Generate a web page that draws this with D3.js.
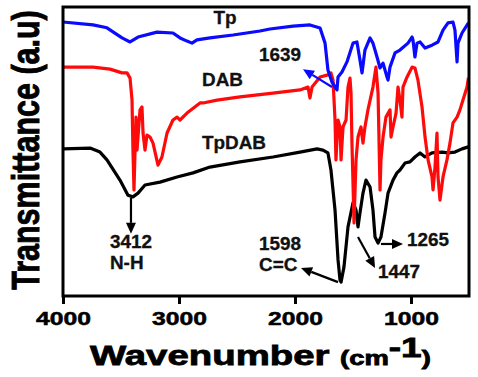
<!DOCTYPE html>
<html>
<head>
<meta charset="utf-8">
<script src="https://cdn.jsdelivr.net/npm/d3@7"></script>
<style>
  body { margin: 0; background: #fff; }
  svg { display: block; font-family: "Liberation Sans", Arial, sans-serif; font-weight: bold; }
</style>
</head>
<body>
<div id="chart"></div>
<script>
// FTIR spectra, wavenumber (cm-1) vs transmittance (a.u)
const tpWave = [4000, 3741, 3621, 3491, 3422, 3353, 3190, 3052, 2991, 2931, 2888, 2845, 2733, 2534, 2302, 2216, 2017, 1871, 1784, 1741, 1716, 1681, 1638, 1629, 1595, 1552, 1500, 1466, 1440, 1422, 1397, 1353, 1328, 1293, 1267, 1241, 1207, 1198, 1181, 1138, 1095, 1026, 991, 983, 966, 948, 922, 879, 819, 767, 724, 681, 638, 621, 603, 595, 560, 505];
const tpT    = [94.8, 93.8, 92.8, 89.3, 87.9, 89.6, 91.3, 91.0, 89.3, 88.2, 87.5, 88.6, 89.3, 90.3, 91.7, 92.4, 93.4, 93.8, 92.7, 87.5, 78.2, 74.0, 71.3, 75.8, 77.5, 81.0, 87.5, 87.9, 81.7, 77.2, 85.1, 89.3, 87.5, 82.7, 78.9, 80.6, 75.8, 74.7, 79.2, 84.1, 85.1, 87.5, 89.6, 88.6, 82.7, 87.5, 87.9, 85.8, 86.8, 87.9, 92.0, 94.5, 94.8, 92.0, 81.0, 87.5, 91.0, 94.5];

const dabWave = [4000, 3741, 3595, 3491, 3448, 3422, 3405, 3397, 3388, 3371, 3362, 3336, 3319, 3310, 3293, 3276, 3250, 3224, 3181, 3147, 3103, 3052, 3017, 2991, 2931, 2819, 2793, 2672, 2474, 2190, 1957, 1888, 1871, 1853, 1784, 1716, 1690, 1672, 1655, 1647, 1629, 1612, 1603, 1586, 1560, 1543, 1526, 1517, 1509, 1491, 1474, 1457, 1440, 1431, 1414, 1397, 1371, 1328, 1302, 1284, 1267, 1259, 1241, 1216, 1181, 1172, 1155, 1129, 1112, 1095, 1078, 1069, 1034, 991, 966, 940, 905, 879, 853, 819, 810, 793, 776, 767, 750, 724, 690, 664, 638, 603, 578, 552, 517, 505];
const dabT    = [79.2, 79.2, 78.5, 77.2, 77.2, 75.4, 67.8, 50.5, 36.7, 61.9, 50.5, 64.4, 65.4, 56.4, 50.5, 55.7, 55.0, 52.9, 45.3, 48.1, 56.4, 60.9, 61.9, 60.9, 63.3, 66.8, 66.8, 67.8, 68.9, 70.2, 71.3, 72.3, 68.5, 72.3, 75.8, 76.5, 77.2, 74.7, 60.9, 47.1, 60.9, 58.5, 47.1, 58.5, 60.9, 72.3, 75.4, 70.2, 52.9, 25.3, 47.1, 55.0, 57.4, 58.5, 52.9, 58.5, 64.4, 72.3, 79.2, 70.2, 36.7, 47.1, 55.0, 61.9, 64.4, 55.0, 58.5, 63.3, 72.3, 67.8, 61.9, 72.3, 75.8, 79.2, 78.9, 74.7, 65.4, 55.0, 47.1, 41.2, 36.7, 44.6, 56.4, 41.2, 33.2, 41.2, 47.1, 52.9, 59.9, 61.9, 64.4, 67.8, 72.3, 75.5];

const tpdabWave = [4000, 3767, 3681, 3621, 3509, 3440, 3397, 3353, 3293, 3164, 3017, 2879, 2733, 2474, 2190, 1957, 1810, 1759, 1716, 1690, 1655, 1629, 1612, 1603, 1578, 1543, 1500, 1474, 1457, 1440, 1414, 1388, 1353, 1328, 1310, 1284, 1259, 1224, 1198, 1155, 1121, 1095, 1052, 1009, 966, 922, 879, 819, 733, 681, 621, 560, 505];
const tpdabT    = [50.9, 51.2, 49.8, 47.1, 40.1, 34.9, 34.3, 35.6, 38.4, 39.4, 41.2, 42.6, 44.6, 46.4, 48.1, 49.8, 50.9, 50.5, 49.5, 43.6, 29.8, 12.5, 5.5, 4.8, 10.0, 23.9, 32.2, 29.8, 23.9, 28.7, 35.6, 40.1, 37.7, 29.8, 20.4, 18.3, 20.4, 28.7, 35.6, 40.1, 42.6, 43.6, 46.0, 46.4, 48.1, 49.5, 48.1, 49.5, 49.8, 49.5, 49.8, 50.9, 51.6];

const xTicks = [4000, 3000, 2000, 1000];

const seriesNames = ['Tp', 'DAB', 'TpDAB'];

const W = 478, H = 377;
const box = { left: 63, right: 469, top: 7, bottom: 296 };
const stretch = 1.37; // the original figure is stretched horizontally

const svg = d3.select('#chart').append('svg')
  .attr('width', W)
  .attr('height', H);

svg.append('rect').attr('width', W).attr('height', H).attr('fill', '#fff');

const x = d3.scaleLinear().domain([4000, 500]).range([box.left, box.right]);
const y = d3.scaleLinear().domain([0, 100]).range([box.bottom, box.top]);

const line = d3.line()
  .x(d => x(d[0]))
  .y(d => y(d[1]));

const series = [
  { wave: tpdabWave, t: tpdabT, color: '#000000' },
  { wave: dabWave,   t: dabT,   color: '#ff0a0a' },
  { wave: tpWave,    t: tpT,    color: '#0a0aff' }
];

series.forEach(s => {
  svg.append('path')
    .datum(d3.zip(s.wave, s.t))
    .attr('d', line)
    .attr('fill', 'none')
    .attr('stroke', s.color)
    .attr('stroke-width', 3.2)
    .attr('stroke-linejoin', 'round');
});

// frame
svg.append('rect')
  .attr('x', box.left).attr('y', box.top)
  .attr('width', box.right - box.left).attr('height', box.bottom - box.top)
  .attr('fill', 'none').attr('stroke', '#000').attr('stroke-width', 3);

// bottom axis
const xAxis = svg.append('g')
  .attr('transform', `translate(0,${box.bottom})`)
  .call(d3.axisBottom(x).tickValues(xTicks).tickFormat(d3.format('d'))
    .tickSize(8).tickPadding(8).tickSizeOuter(0));
xAxis.select('.domain').remove();
xAxis.selectAll('.tick line').attr('stroke', '#000').attr('stroke-width', 3);
xAxis.selectAll('.tick text')
  .attr('fill', '#000')
  .attr('stroke', '#000')
  .attr('stroke-width', 0.5)
  .attr('font-size', 18)
  .attr('font-family', '"Liberation Sans", Arial, sans-serif')
  .attr('font-weight', 'bold')
  .attr('transform', `scale(${stretch},1)`);

// axis titles
const xt = svg.append('text')
  .attr('transform', `translate(90,365) scale(${stretch},1)`)
  .attr('fill', '#000')
  .attr('stroke', '#000')
  .attr('stroke-width', 0.8);
xt.append('tspan').attr('font-size', 28).text('Wavenumber ');
xt.append('tspan').attr('font-size', 20).text('(cm');
xt.append('tspan').attr('font-size', 27).attr('dy', -8).text('-1');
xt.append('tspan').attr('font-size', 20).attr('dy', 8).text(')');

svg.append('text')
  .attr('transform', `translate(39,150) scale(1.3,1) rotate(-90)`)
  .attr('text-anchor', 'middle')
  .attr('font-size', 30.5)
  .attr('fill', '#000')
  .attr('stroke', '#000')
  .attr('stroke-width', 0.7)
  .text('Transmittance (a.u)');

// annotations
const labelScale = 1.08;
const seriesLabels = [
  { text: seriesNames[0], wave: 2603, t: 94.1 },
  { text: seriesNames[1], wave: 2625, t: 72.7 },
  { text: seriesNames[2], wave: 2526, t: 50.9 }
];
const peakLabels = [
  { text: '1639', wave: 2129, t: 81.3, anchor: 'middle' },
  { text: '3412', wave: 3595, t: 16.6, anchor: 'start' },
  { text: 'N-H',  wave: 3595, t: 9.3,  anchor: 'start' },
  { text: '1598', wave: 2310, t: 15.9, anchor: 'start' },
  { text: 'C=C',  wave: 2310, t: 8.7,  anchor: 'start' },
  { text: '1447', wave: 1284, t: 6.2,  anchor: 'start' },
  { text: '1265', wave: 1034, t: 17.4, anchor: 'start' }
];
seriesLabels.concat(peakLabels).forEach(l => {
  svg.append('text')
    .attr('transform', `translate(${x(l.wave)},${y(l.t)}) scale(${labelScale},1)`)
    .attr('text-anchor', l.anchor || 'middle')
    .attr('font-size', 17.5)
    .attr('fill', '#111')
    .attr('stroke', '#111')
    .attr('stroke-width', 0.3)
    .text(l.text);
});

// arrows from peak to label
const arrows = [
  { from: [1681, 72.3], to: [1931, 78.5], color: '#0a0aff' },
  { from: [3414, 33.9], to: [3414, 21.5], color: '#000' },
  { from: [1629, 4.8],  to: [1948, 9.7],  color: '#000' },
  { from: [1457, 20.4], to: [1310, 9.7],  color: '#000' },
  { from: [1259, 18.0], to: [1069, 18.0], color: '#000' }
];
arrows.forEach(a => {
  const x1 = x(a.from[0]), y1 = y(a.from[1]);
  const x2 = x(a.to[0]),   y2 = y(a.to[1]);
  const ang = Math.atan2(y2 - y1, x2 - x1);
  const len = 11, half = 5;
  const bx = x2 - len * Math.cos(ang), by = y2 - len * Math.sin(ang);
  svg.append('line')
    .attr('x1', x1).attr('y1', y1).attr('x2', bx).attr('y2', by)
    .attr('stroke', a.color).attr('stroke-width', 2.2);
  const px = -Math.sin(ang) * half, py = Math.cos(ang) * half;
  svg.append('path')
    .attr('d', `M${x2},${y2}L${bx + px},${by + py}L${bx - px},${by - py}Z`)
    .attr('fill', a.color);
});
</script>
</body>
</html>
